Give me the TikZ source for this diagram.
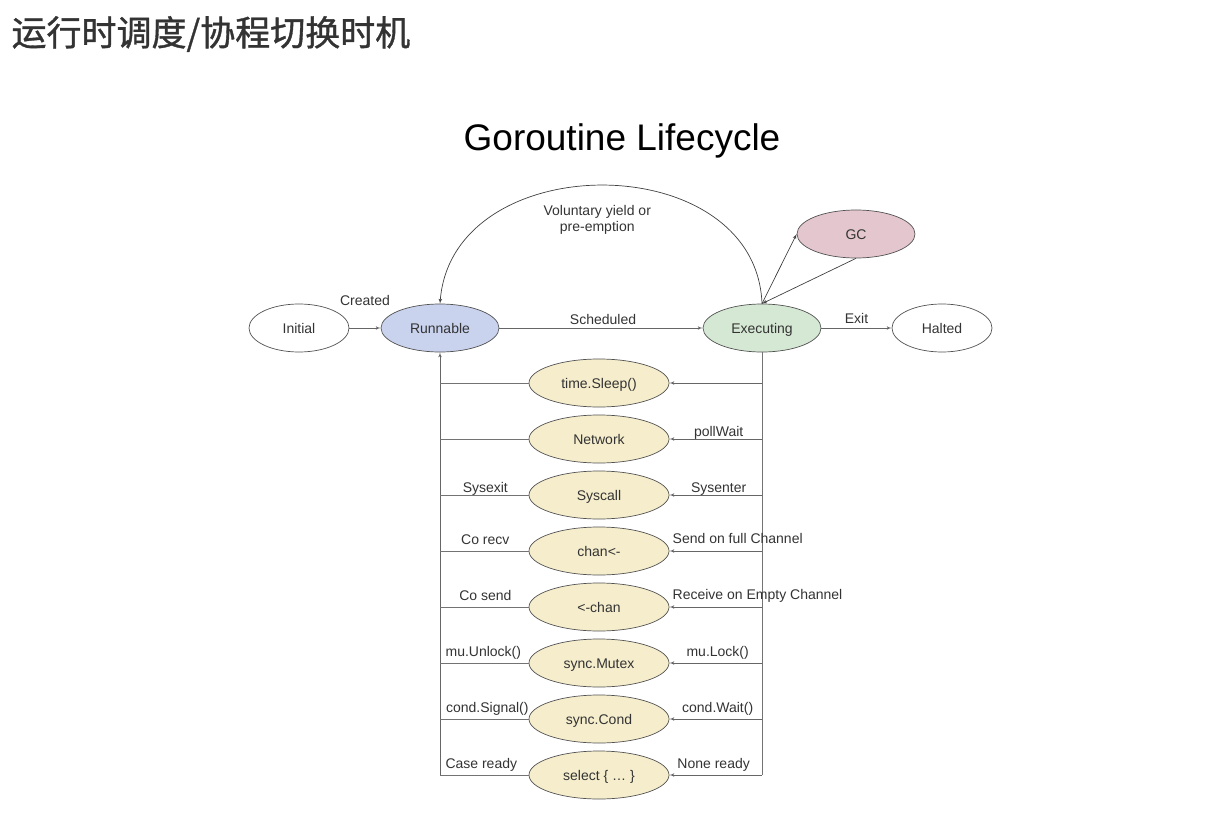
\documentclass[tikz,border=0pt]{standalone}
\usepackage{fontspec}
\setmainfont{Liberation Sans}
\newfontfamily\cjk[FakeBold=1]{Noto Sans CJK SC}
\usetikzlibrary{arrows,shapes.geometric}
\definecolor{runblue}{HTML}{C9D3EE}
\definecolor{exgreen}{HTML}{D5E8D4}
\definecolor{gcpink}{HTML}{E4C7CE}
\definecolor{waityellow}{HTML}{F5EDCC}
\definecolor{ink}{HTML}{333333}
\begin{document}
\begin{tikzpicture}[x=1pt,y=-1pt]
\tikzset{state/.style = {shape=ellipse,draw=ink!85,line width=0.7pt,minimum width=118pt,minimum height=48pt,inner sep=1pt,text=ink,text height=11pt,text depth=1pt,font=\fontsize{14}{16}\selectfont}}
\tikzset{wait/.style = {state,fill=waityellow,minimum width=140pt}}
\tikzset{flow/.style = {->,> = latex',draw=black!60,line width=0.7pt}}
\tikzset{wire/.style = {draw=black!55,line width=0.7pt}}
\tikzset{lbl/.style = {text=ink,inner sep=1pt,text height=10pt,text depth=3pt,font=\fontsize{14}{16}\selectfont}}
\useasboundingbox (0,0) rectangle (1208,816);
% titles
\node[anchor=west,text=ink,font=\cjk\fontsize{35}{40}\selectfont] (heading) at (8,34) {运行时调度/协程切换时机};
\node[text=black,font=\fontsize{37}{42}\selectfont] (title) at (622,141) {Goroutine Lifecycle};
% states
\node[state,minimum width=100pt] (initial) at (299,328) {Initial};
\node[state,fill=runblue] (runnable) at (440,328) {Runnable};
\node[state,fill=exgreen] (executing) at (762,328) {Executing};
\node[state,minimum width=100pt] (halted) at (942,328) {Halted};
\node[state,fill=gcpink] (gc) at (856,234) {GC};
% waiting reasons
\node[wait] (sleep) at (599,383) {time.Sleep()};
\node[wait] (network) at (599,439) {Network};
\node[wait] (syscall) at (599,495) {Syscall};
\node[wait] (send) at (599,551) {chan<-};
\node[wait] (recv) at (599,607) {<-chan};
\node[wait] (mutex) at (599,663) {sync.Mutex};
\node[wait] (cond) at (599,719) {sync.Cond};
\node[wait] (select) at (599,775) {select \{ \dots\ \}};
% main edges
\draw[flow] (initial) -- node[lbl,above=18pt] {Created} (runnable);
\draw[flow] (runnable) -- node[lbl,above=-1pt,xshift=2pt] {Scheduled} (executing);
\draw[flow] (executing) -- node[lbl,above=0pt] {Exit} (halted);
\draw[flow,draw=black!75] (executing.north) .. controls (756,146) and (452,146) .. node[lbl,text height=,text depth=,below=19pt,xshift=-6pt,align=center] {Voluntary yield or\\pre-emption} (runnable.north);
\draw[flow,draw=black!75] (executing.north) -- (gc.west);
\draw[flow,draw=black!75] (gc.south) -- (executing.north);
% bus lines
\draw[wire] (executing) -- (executing |- select);
\draw[flow] (runnable |- select) -- (runnable);
% into waiting
\draw[flow] (executing |- sleep) -- (sleep);
\draw[flow] (executing |- network) -- node[lbl,above=-2pt,xshift=3pt] {pollWait} (network);
\draw[flow] (executing |- syscall) -- node[lbl,above=-2pt,xshift=3pt] {Sysenter} (syscall);
\draw[flow] (executing |- send) -- node[lbl,pos=1,anchor=south west,xshift=2pt,yshift=3pt] {Send on full Channel} (send);
\draw[flow] (executing |- recv) -- node[lbl,pos=1,anchor=south west,xshift=2pt,yshift=3pt] {Receive on Empty Channel} (recv);
\draw[flow] (executing |- mutex) -- node[lbl,above=2pt,xshift=2pt] {mu.Lock()} (mutex);
\draw[flow] (executing |- cond) -- node[lbl,above=2pt,xshift=2pt] {cond.Wait()} (cond);
\draw[flow] (executing |- select) -- node[lbl,above=2pt,xshift=-2pt] {None ready} (select);
% back to runnable
\draw[wire] (sleep) -- (runnable |- sleep);
\draw[wire] (network) -- (runnable |- network);
\draw[wire] (syscall) -- node[lbl,above=-2pt,xshift=1pt] {Sysexit} (runnable |- syscall);
\draw[wire] (send) -- node[lbl,above=2pt,xshift=1pt] {Co recv} (runnable |- send);
\draw[wire] (recv) -- node[lbl,above=2pt,xshift=1pt] {Co send} (runnable |- recv);
\draw[wire] (mutex) -- node[lbl,above=2pt,xshift=-1pt] {mu.Unlock()} (runnable |- mutex);
\draw[wire] (cond) -- node[lbl,above=2pt,xshift=3pt] {cond.Signal()} (runnable |- cond);
\draw[wire] (select) -- node[lbl,above=2pt,xshift=-3pt] {Case ready} (runnable |- select);
\end{tikzpicture}
\end{document}
